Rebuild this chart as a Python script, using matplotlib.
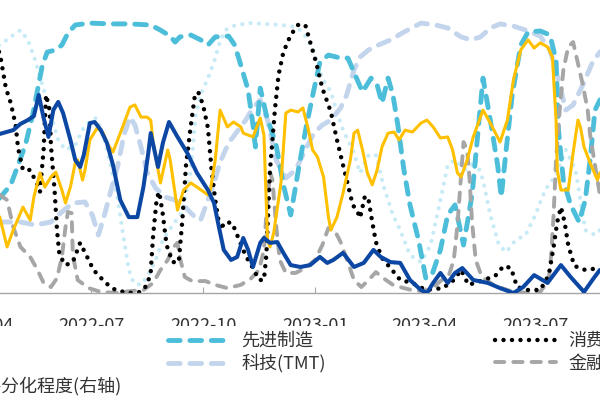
import pandas as pd
import matplotlib
matplotlib.use('Agg')
import matplotlib.pyplot as plt
import matplotlib.dates as mdates
from matplotlib.patches import Rectangle

plt.rcParams['font.family'] = ['Noto Sans CJK SC', 'DejaVu Sans']

BASE = pd.Timestamp('2022-04-01')

# 先进制造
adv_days = [0, 16, 25, 31, 37, 43, 47, 51, 55, 62, 67, 72, 78, 90, 107, 123, 140, 148, 156, 160,
            164, 173, 181, 187, 193, 204, 209, 214, 220, 224, 226, 230, 235, 243, 249, 255, 262, 268,
            274, 279, 286, 296, 302, 308, 314, 321, 326, 330, 335, 339, 343, 348, 353, 360, 366, 371,
            378, 384, 390, 397, 404, 409, 413, 419, 425, 428, 432, 437, 444, 450, 460, 468, 473, 475,
            479, 485, 492, 497, 501, 505, 509, 518]
adv_vals = [28.8, 35.1, 39.9, 47.2, 54.6, 65.7, 74.9, 84.1, 88.9, 89.7, 91.5, 95.9, 98.9, 99.6, 99.3,
            99.3, 98.9, 97, 94.8, 92.6, 94.5, 95.2, 93.4, 91.5, 94.5, 94.8, 91.5, 84.1, 74.9, 62, 53.9,
            75.6, 65.7, 54.6, 39.9, 28.8, 47.2, 62, 74.9, 85.2, 87.8, 86.7, 86.7, 80.4, 74.2, 79.3,
            76.8, 70.1, 79.3, 73.1, 62, 45.4, 32.5, 19.6, 5.5, 6.6, 15.9, 28.8, 32.5, 17.7, 36.2, 60.1,
            79.3, 63.8, 47.2, 35.4, 52.8, 73.1, 91.5, 96.3, 96.7, 95.2, 86, 60.1, 41.7, 32.5, 26.2,
            34.3, 49.1, 67.5, 71.2, 73.1]

# 科技(TMT)
tmt_days = [0, 16, 33, 45, 58, 67, 76, 86, 92, 97, 102, 107, 113, 118, 123, 127, 132, 137, 144, 152,
            160, 169, 177, 181, 187, 192, 197, 204, 210, 218, 224, 230, 236, 243, 251, 259, 267, 274,
            281, 288, 296, 301, 307, 312, 319, 327, 337, 348, 362, 374, 384, 395, 403, 411, 419, 427,
            438, 448, 460, 468, 475, 481, 487, 495, 503, 509, 518]
tmt_vals = [26.2, 26.2, 26.2, 25.1, 26.2, 29.9, 33.2, 33.6, 28.8, 21.4, 28.8, 37.3, 47.2, 58.3, 64.9,
            62, 53.9, 44.6, 38.7, 35.4, 34.3, 31.4, 27.7, 26.9, 34.3, 40.6, 48.3, 55.4, 59, 63.8, 68.3,
            71.2, 63.8, 49.1, 42.4, 45.4, 52.8, 59, 62, 63.8, 68.3, 73.1, 82.3, 87.1, 89.7, 91.5, 93.4,
            96.3, 99.6, 98.9, 97.8, 94.5, 93.4, 94.5, 97.8, 99.3, 98.5, 97, 94.8, 89.7, 78.6, 67.5,
            69.4, 76.8, 85.2, 88.9, 91.5]

# 消费
con_days = [0, 16, 21, 25, 29, 31, 35, 41, 47, 49, 52, 54, 57, 58, 61, 63, 65, 70, 76, 82, 87, 93,
            103, 111, 122, 132, 137, 140, 142, 145, 147, 150, 153, 158, 163, 166, 169, 173, 176, 179,
            183, 187, 190, 193, 197, 201, 207, 212, 218, 224, 229, 233, 235, 238, 242, 245, 249, 255,
            261, 267, 271, 276, 281, 288, 293, 298, 302, 306, 310, 312, 316, 319, 322, 325, 330, 337,
            345, 355, 366, 380, 389, 395, 401, 411, 423, 430, 436, 441, 450, 460, 467, 471, 474, 477,
            480, 483, 488, 497, 509, 518]
con_vals = [98.9, 88.6, 75.6, 70.1, 62, 53.5, 45.4, 45.4, 39.9, 37.3, 52.8, 73.1, 67.5, 54.6, 38,
            23.2, 14, 10.3, 11.4, 18.5, 14, 8.5, 3.7, 1.1, 0, 0.4, 3, 7.7, 21.4, 35.1, 37.3, 28.8,
            17.7, 11.4, 11.4, 26.9, 47.2, 62, 72, 74.2, 69.4, 60.9, 45.4, 34.3, 23.2, 26.2, 25.8, 20.3,
            13.7, 9.2, 4.8, 4.8, 14, 45.4, 67.5, 80.4, 88.9, 95.2, 98.9, 98.9, 92.6, 84.9, 75.6, 66.8,
            56.5, 47.2, 39.9, 32.5, 29.9, 27.7, 35.8, 34.3, 26.2, 18.8, 12.9, 9.2, 4.8, 3.7, 1.1, 1.8,
            4.8, 8.5, 3, 4.4, 6.3, 10, 9.2, 2.2, 1.1, 1.1, 6.6, 17, 26.2, 31.7, 26.2, 17.7, 10, 8.5,
            9.2, 8.5]

# 金融
fin_days = [0, 16, 22, 27, 33, 41, 47, 52, 58, 63, 67, 70, 72, 75, 76, 80, 89, 99, 111, 123, 134,
            142, 148, 154, 158, 162, 164, 168, 174, 185, 193, 203, 214, 222, 229, 233, 235, 238, 240,
            243, 246, 251, 259, 267, 275, 281, 286, 291, 296, 302, 307, 313, 319, 325, 331, 339, 348,
            358, 370, 378, 385, 389, 392, 395, 397, 400, 402, 404, 407, 412, 423, 436, 450, 460, 467,
            469, 471, 473, 476, 479, 483, 487, 490, 495, 499, 501, 505, 509, 518]
fin_vals = [38, 36.2, 34.3, 24.4, 17, 13.3, 8.5, 3.7, 2.2, 5.5, 13.3, 24.4, 29.9, 29.5, 14, 4.8,
            1.8, 0.4, 0, 0.7, 1.1, 3.7, 8.5, 12.2, 16.6, 18.5, 12.9, 5.9, 4.4, 4.4, 3, 1.8, 3, 5.2,
            8.5, 15.9, 28.8, 44.6, 41.7, 25.1, 12.2, 7.4, 7.4, 9.2, 12.2, 17.7, 24, 23.2, 18.8, 11.4,
            4.8, 2.2, 4.8, 7.7, 5.5, 3, 1.8, 0.7, 1.1, 4.4, 6.6, 12.2, 25.1, 43.5, 55.7, 52.8, 41.7,
            26.2, 12.2, 5.9, 2.6, 0.7, 0, 0.4, 4.8, 14, 28.8, 49.1, 67.5, 82.3, 90.8, 92.6, 86.7,
            76.8, 67.5, 58.3, 47.2, 36.2, 23.2]

# 周期
cyc_days = [0, 16, 22, 27, 33, 35, 41, 44, 49, 53, 58, 62, 67, 70, 74, 78, 80, 84, 86, 90, 96, 101,
            104, 109, 115, 123, 127, 132, 137, 140, 142, 148, 154, 156, 162, 167, 173, 178, 187, 189,
            193, 197, 203, 208, 214, 216, 224, 230, 233, 236, 238, 241, 247, 251, 255, 261, 265, 269,
            273, 277, 282, 286, 288, 293, 298, 304, 307, 310, 314, 318, 322, 326, 330, 335, 340, 344,
            349, 355, 362, 367, 372, 378, 384, 388, 392, 395, 400, 405, 413, 419, 427, 433, 438, 444,
            450, 455, 460, 466, 470, 473, 474, 477, 483, 487, 491, 493, 496, 501, 507, 509, 518]
cyc_vals = [34.3, 28, 17, 23.2, 29.5, 31.7, 26.9, 35.4, 44.3, 39.1, 42.8, 44.6, 38, 33.2, 39.1, 48,
            49.1, 41.7, 45.4, 56.5, 60.9, 59, 55.4, 52, 59, 68.6, 69.4, 64.9, 64.9, 63.8, 55.4, 40.6,
            52.8, 49.1, 30.6, 38, 40.6, 39.1, 36.2, 38, 49.1, 67.5, 61.3, 63.1, 61.3, 59, 57.6, 64.6,
            58.3, 19.6, 17, 22.1, 40.6, 66.4, 67.5, 66.8, 68.3, 61.3, 52.8, 50.2, 42.8, 28, 23.2, 28,
            36.9, 49.1, 59, 60.1, 52.8, 44.3, 39.9, 45.4, 53.9, 59, 59.4, 56.5, 60.1, 59.4, 62.7, 63.8,
            61.3, 57.2, 57.6, 52.8, 44.3, 42.8, 49.1, 57.6, 67.5, 62.7, 55.7, 63.8, 78.6, 89.7, 93.4,
            90.4, 92.3, 90.8, 87.1, 63.8, 45.4, 38, 38, 51.7, 63.8, 61.3, 53.9, 48, 41.7, 44.3, 47.2]

# 医药
med_days = [0, 16, 25, 33, 39, 45, 51, 58, 64, 70, 78, 86, 95, 101, 107, 113, 118, 122, 126, 132,
            138, 144, 150, 158, 166, 173, 177, 181, 187, 192, 196, 201, 210, 222, 234, 247, 259, 265,
            273, 281, 288, 293, 298, 306, 312, 319, 325, 331, 339, 345, 353, 362, 370, 378, 384, 390,
            399, 407, 413, 419, 426, 432, 440, 448, 456, 464, 473, 481, 489, 497, 505, 509, 518]
med_vals = [89.7, 91.5, 94.5, 97, 93.4, 86, 76.8, 65.7, 56.5, 52.8, 54.6, 62, 64.6, 58.3, 47.2, 34.3,
            19.6, 8.5, 3.7, 3, 6.6, 12.2, 19.6, 25.1, 29.9, 45.4, 65.7, 73.1, 79.3, 85.2, 91.5, 97,
            98.9, 99.6, 99.3, 98.9, 98.2, 96.3, 90.4, 79.3, 74.2, 66.8, 60.1, 52.8, 44.3, 50.9, 50.9,
            39.9, 28.8, 23.2, 14, 11.4, 17.7, 34.3, 47.2, 49.1, 45.4, 49.1, 41.7, 28.8, 17.7, 15.1,
            19.6, 21.4, 28.8, 38, 43.5, 52.8, 45.4, 23.2, 21.4, 23.2, 25.1]

# 分化程度(右轴)
dsp_days = [0, 16, 27, 33, 39, 44, 48, 52, 56, 60, 64, 68, 74, 78, 82, 85, 90, 94, 99, 104, 109, 115,
            122, 129, 134, 138, 140, 146, 150, 155, 162, 170, 178, 187, 192, 196, 200, 206, 211, 216,
            220, 224, 230, 233, 238, 244, 249, 255, 263, 271, 279, 285, 290, 298, 307, 315, 323, 329,
            337, 345, 353, 362, 367, 372, 378, 384, 390, 396, 405, 417, 427, 438, 446, 455, 466, 477,
            485, 496, 504, 509, 518]
dsp_vals = [56.5, 58.7, 60.1, 62.4, 63.8, 65.3, 73.1, 64.6, 57.6, 67.5, 70.5, 66.4, 56.5, 49.1, 46.5,
            50.9, 62.7, 63.1, 60.1, 55.4, 47.2, 34.3, 28, 28, 39.1, 51.7, 59, 46.5, 55.4, 63.1, 57.6,
            51.7, 44.3, 38, 33.2, 24.4, 15.9, 12.2, 13.3, 20.3, 15.9, 9.6, 18.5, 20.3, 18.5, 18.8,
            14.8, 10.3, 9.6, 10.3, 13.3, 11.1, 12.2, 14.8, 9.6, 11.1, 15.9, 13.3, 11.4, 11.1, 4.8, 1.1,
            0, 3.7, 7.4, 3.7, 7.4, 9.2, 4.8, 3.7, 1.8, 0, 2.2, 6.6, 3.7, 10.3, 5.9, 0.4, 5.5, 8.5, 7.7]

TXT = '#333333'


def to_dates(days):
    return BASE + pd.to_timedelta(days, unit='D')


fig = plt.figure(figsize=(6, 4), dpi=100)
# plot area runs past both edges of the picture
ax = fig.add_axes([-0.0328, 0.2675, 1.0488, 0.6978])
ax2 = ax.twinx()

rnd = dict(solid_capstyle='round', dash_capstyle='round')
DASH = (0, (2.4, 2.0))
h_med, = ax.plot(to_dates(med_days), med_vals, color='#C6EBF7', lw=3.0, ls=(0, (0.01, 2.0)), **rnd)
h_tmt, = ax.plot(to_dates(tmt_days), tmt_vals, color='#C3D5EC', lw=3.5, ls=DASH, **rnd)
h_adv, = ax.plot(to_dates(adv_days), adv_vals, color='#4CBED9', lw=3.5, ls=DASH, **rnd)
h_fin, = ax.plot(to_dates(fin_days), fin_vals, color='#A6A6A6', lw=2.8, ls=(0, (2.4, 2.3)), **rnd)
h_con, = ax.plot(to_dates(con_days), con_vals, color='#000000', lw=3.2, ls=(0, (0.01, 1.9)), **rnd)
h_cyc, = ax.plot(to_dates(cyc_days), cyc_vals, color='#FFC000', lw=2.2, **rnd)
h_dsp, = ax2.plot(to_dates(dsp_days), dsp_vals, color='#0B47A3', lw=2.9, **rnd)

for a in (ax, ax2):
    a.set_xlim(pd.Timestamp('2022-04-01'), pd.Timestamp('2023-08-31'))
    a.set_ylim(0, 103)
    for s in ('left', 'right', 'top'):
        a.spines[s].set_visible(False)
    a.tick_params(left=False, right=False, labelleft=False, labelright=False)
ax2.spines['bottom'].set_visible(False)
ax2.tick_params(bottom=False, labelbottom=False)

ax.spines['bottom'].set_color('#A6A6A6')
ax.spines['bottom'].set_linewidth(1.0)
ax.xaxis.set_major_locator(mdates.MonthLocator(bymonth=[1, 4, 7, 10]))
ax.xaxis.set_major_formatter(mdates.DateFormatter('%Y-%m'))
ax.tick_params(axis='x', direction='in', length=4, color='#A6A6A6', labelsize=13,
               labelcolor=TXT, pad=17)

# white band under the legend covers the lower part of the tick labels
fig.patches.append(Rectangle((0, 0), 1, 0.185, transform=fig.transFigure,
                             facecolor='white', edgecolor='none', zorder=3))

leg_kw = dict(loc='upper left', frameon=False, fontsize=13, labelcolor=TXT, borderpad=0,
              borderaxespad=0, handlelength=3.4, handletextpad=0.65, labelspacing=0.25)
cols = [([h_cyc, h_med, h_dsp], ['周期', '医药', '行业风格分化程度(右轴)'], -144),
        ([h_adv, h_tmt], ['先进制造', '科技(TMT)'], 168),
        ([h_con, h_fin], ['消费', '金融'], 495)]
for hs, labs, x0 in cols:
    lg = fig.legend(hs, labs, bbox_to_anchor=(x0 / 600, 1 - 332 / 400), **leg_kw)
    lg.set_zorder(5)

fig.savefig('out.png', dpi=100)
